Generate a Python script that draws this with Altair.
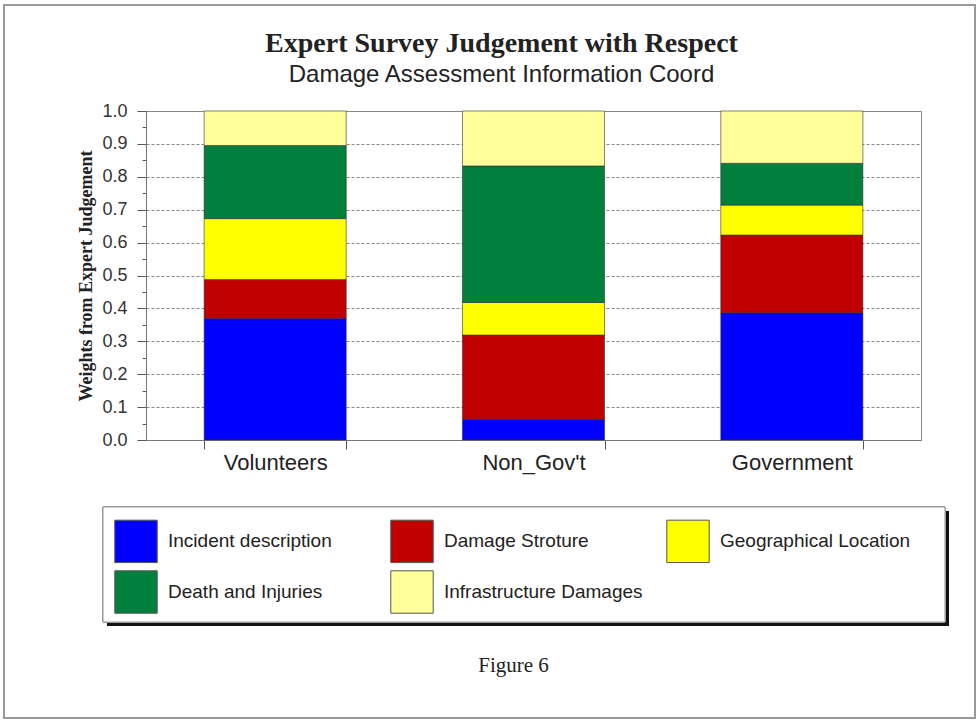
import altair as alt
import pandas as pd

# Survey groups and judgement criteria
GROUPS = ["Volunteers", "Non_Gov't", "Government"]
CRITERIA = [
    "Incident description",
    "Damage Stroture",
    "Geographical Location",
    "Death and Injuries",
    "Infrastructure Damages",
]
COLORS = ["#0000FF", "#C00000", "#FFFF00", "#00803C", "#FFFF99"]

# Weights per criterion, one list per group (order follows CRITERIA)
VOLUNTEERS = [0.370, 0.118, 0.185, 0.222, 0.105]
NON_GOVT = [0.063, 0.256, 0.099, 0.415, 0.167]
GOVERNMENT = [0.387, 0.236, 0.091, 0.127, 0.159]

Y_TICKS = [round(i * 0.05, 2) for i in range(21)]

rows = []
for group, weights in zip(GROUPS, [VOLUNTEERS, NON_GOVT, GOVERNMENT]):
    for idx, (crit, w) in enumerate(zip(CRITERIA, weights)):
        rows.append({"group": group, "criterion": crit, "weight": w, "idx": idx})
df = pd.DataFrame(rows)

W, H = 775, 329
SERIF = "Liberation Serif"
SANS = "Liberation Sans"

major = "round(datum.value * 20) % 2 == 0"

bars = alt.Chart(df).mark_bar(stroke="#333333", strokeWidth=0.6).encode(
    x=alt.X(
        "group:N",
        sort=GROUPS,
        scale=alt.Scale(paddingInner=0.45, paddingOuter=0.225),
        axis=alt.Axis(
            title="Figure 6",
            titleFont=SERIF,
            titleFontSize=21,
            titleFontWeight="normal",
            titleColor="#222222",
            titleX=367,
            titleY=231,
            titleAnchor="middle",
            titleBaseline="alphabetic",
            labelAngle=0,
            labelFont=SANS,
            labelFontSize=22,
            labelColor="#222222",
            labelPadding=3,
            tickBand="extent",
            tickSize=9,
            tickColor="#555555",
            domainColor="#777777",
            grid=False,
        ),
    ),
    y=alt.Y(
        "weight:Q",
        stack="zero",
        scale=alt.Scale(domain=[0, 1], nice=False),
        axis=alt.Axis(
            title="Weights from Expert Judgement",
            titleFont=SERIF,
            titleFontSize=18,
            titleFontWeight="bold",
            titleColor="#222222",
            titlePadding=6,
            values=Y_TICKS,
            labelExpr=f"{major} ? format(datum.value, '.1f') : ''",
            labelFont=SANS,
            labelFontSize=18,
            labelColor="#333333",
            labelPadding=10,
            tickColor="#555555",
            tickSize={"condition": {"test": major, "value": 9}, "value": 4},
            domainColor="#777777",
            grid=True,
            gridColor="#888888",
            gridDash=[3, 2],
            gridOpacity={
                "condition": {
                    "test": f"{major} && datum.value > 0 && datum.value < 1",
                    "value": 1,
                },
                "value": 0,
            },
        ),
    ),
    color=alt.Color(
        "criterion:N",
        scale=alt.Scale(domain=CRITERIA, range=COLORS),
        legend=alt.Legend(
            title=None,
            orient="none",
            legendX=-32,
            legendY=408,
            direction="horizontal",
            columns=3,
            gridAlign="all",
            columnPadding=21,
            rowPadding=3,
            padding=0,
            symbolType="square",
            symbolSize=1800,
            symbolStrokeColor="#555555",
            symbolStrokeWidth=1,
            symbolOpacity=1,
            labelFont=SANS,
            labelFontSize=19,
            labelColor="#222222",
            labelOffset=10,
            labelLimit=400,
            zindex=1,
        ),
    ),
    order=alt.Order("idx:Q", sort="ascending"),
)

# Outer figure frame
frame = alt.Chart(df).mark_rect(fill=None, stroke="#999999", strokeWidth=1.5).encode(
    x=alt.value(-142), x2=alt.value(829), y=alt.value(-106), y2=alt.value(607)
)

# Legend panel with drop shadow
shadow = alt.Chart(df).mark_rect(fill="#111111").encode(
    x=alt.value(-39), x2=alt.value(803), y=alt.value(400), y2=alt.value(515)
)
panel = alt.Chart(df).mark_rect(fill="white", stroke="#999999", strokeWidth=1).encode(
    x=alt.value(-43), x2=alt.value(799), y=alt.value(396), y2=alt.value(511)
)

chart = (
    alt.layer(frame, shadow, panel, bars)
    .properties(
        width=W,
        height=H,
        autosize=alt.AutoSizeParams(type="none"),
        padding={"left": 146, "top": 111, "right": 58, "bottom": 282},
        background="white",
        title=alt.TitleParams(
            text="Expert Survey Judgement with Respect",
            subtitle="Damage Assessment Information Coord",
            font=SERIF,
            fontSize=28,
            fontWeight="bold",
            color="#222222",
            subtitleFont=SANS,
            subtitleFontSize=24,
            subtitleColor="#222222",
            subtitlePadding=5,
            anchor="middle",
            frame="group",
            dx=-32,
            dy=109,
            offset=26,
        ),
    )
    .configure_view(stroke="#888888", strokeWidth=1)
)

chart.save("out.html", embed_options={"renderer": "svg", "actions": False})
